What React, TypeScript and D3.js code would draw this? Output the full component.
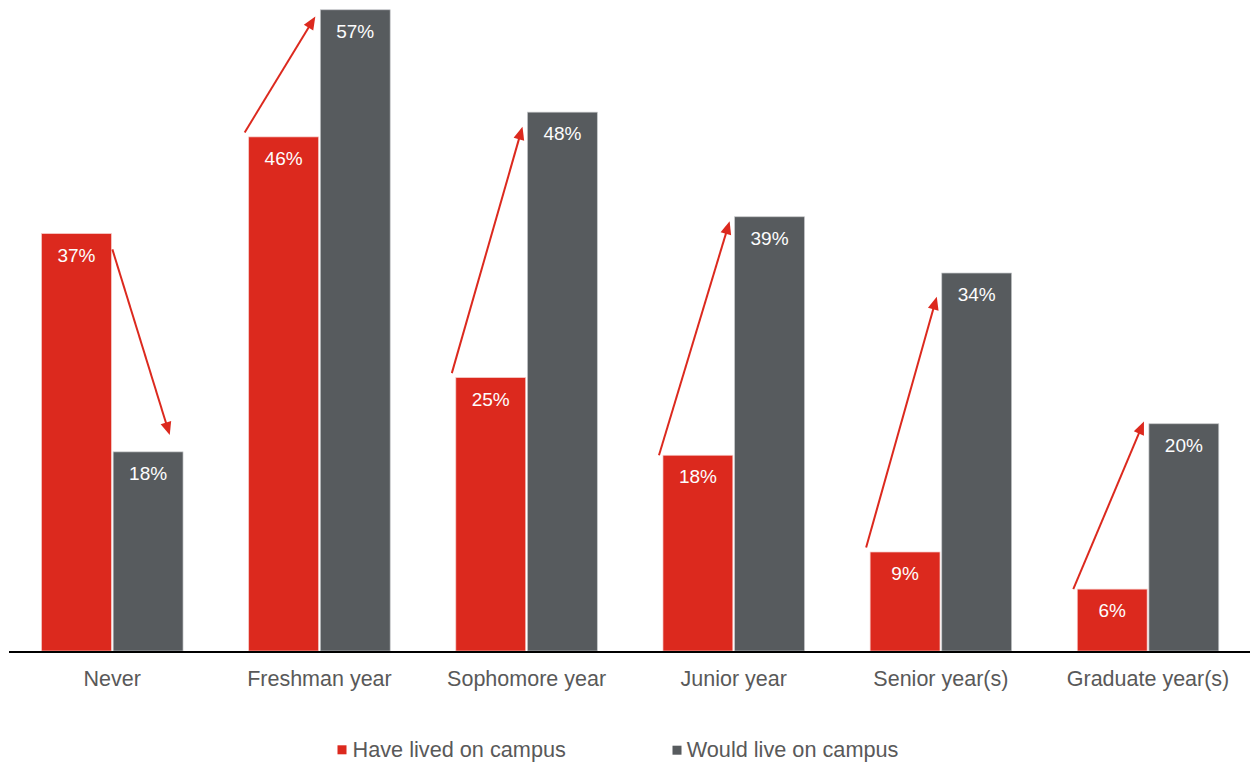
import React from "react";
import * as d3 from "d3";

const categories = ["Never", "Freshman year", "Sophomore year", "Junior year", "Senior year(s)", "Graduate year(s)"];
const seriesNames = ["Have lived on campus", "Would live on campus"];
const haveLived = [37.1, 45.7, 24.3, 17.4, 8.8, 5.5];
const wouldLive = [17.7, 57.0, 47.9, 38.6, 33.6, 20.2];
const haveLivedLabels = ["37%", "46%", "25%", "18%", "9%", "6%"];
const wouldLiveLabels = ["18%", "57%", "48%", "39%", "34%", "20%"];
// arrow annotation levels (percent units)
const arrowFrom = [35.7, 46.1, 24.7, 17.4, 9.2, 5.5];
const arrowTo = [19.2, 56.4, 46.6, 38.2, 31.5, 20.4];

const W = 1250;
const H = 763;
const RED = "#DC291E";
const GRAY = "#575B5E";
const TEXT = "#595959";
const FONT = "'Liberation Sans', Arial, Helvetica, sans-serif";

export default function App() {
  const x0 = d3
    .scaleBand<string>()
    .domain(categories)
    .range([8.7, 1251.6])
    .paddingInner(0.317)
    .paddingOuter(0.1585);
  const x1 = d3
    .scaleBand<string>()
    .domain(["have", "would"])
    .range([0, x0.bandwidth()])
    .paddingInner(0.025);
  const y = d3.scaleLinear().domain([0, 57.87]).range([651, 0]);
  const bw = x1.bandwidth();

  const arrowHead = (xa: number, ya: number, xb: number, yb: number) => {
    const dx = xb - xa;
    const dy = yb - ya;
    const len = Math.sqrt(dx * dx + dy * dy);
    const ux = dx / len;
    const uy = dy / len;
    const hl = 13;
    const hw = 5.5;
    const bx = xb - ux * hl;
    const by = yb - uy * hl;
    const pts = [
      [xb, yb],
      [bx - uy * hw, by + ux * hw],
      [bx + uy * hw, by - ux * hw],
    ];
    return { pts: pts.map((p) => p.join(",")).join(" "), lx: xb - ux * 10, ly: yb - uy * 10 };
  };

  return (
    <svg width={W} height={H} style={{ position: "absolute", left: 0, top: 0, background: "#fff" }}>
      {categories.map((c, i) => {
        const gx = x0(c)!;
        const rx = gx + x1("have")!;
        const gxb = gx + x1("would")!;
        const ry = y(haveLived[i]);
        const gy = y(wouldLive[i]);
        const down = arrowTo[i] < arrowFrom[i];
        const xa = down ? rx + bw + 1 : rx - 4;
        const xb = down ? gxb + bw * 0.81 : gxb - 5;
        const ya = y(arrowFrom[i]);
        const yb = y(arrowTo[i]);
        const ah = arrowHead(xa, ya, xb, yb);
        return (
          <g key={c}>
            <rect x={rx} y={ry} width={bw} height={y(0) - ry} fill={RED} stroke="#f6c9c6" strokeWidth={0.7} />
            <rect x={gxb} y={gy} width={bw} height={y(0) - gy} fill={GRAY} stroke="#c4c6c8" strokeWidth={0.7} />
            <text x={rx + bw / 2} y={ry + 28} textAnchor="middle" fill="#fdfdfd" fontSize={19} fontFamily={FONT}>
              {haveLivedLabels[i]}
            </text>
            <text x={gxb + bw / 2} y={gy + 28} textAnchor="middle" fill="#fdfdfd" fontSize={19} fontFamily={FONT}>
              {wouldLiveLabels[i]}
            </text>
            <line x1={xa} y1={ya} x2={ah.lx} y2={ah.ly} stroke={RED} strokeWidth={2} />
            <polygon points={ah.pts} fill={RED} />
            <text x={gx + x0.bandwidth() / 2} y={685.5} textAnchor="middle" fill={TEXT} fontSize={21.5} fontFamily={FONT}>
              {c}
            </text>
          </g>
        );
      })}
      <line x1={9} x2={1250} y1={652} y2={652} stroke="#000" strokeWidth={2} />
      <g>
        <rect x={337.5} y={745.3} width={9} height={9} fill={RED} />
        <text x={352.5} y={756.7} fill={TEXT} fontSize={21.7} fontFamily={FONT}>
          {seriesNames[0]}
        </text>
        <rect x={672.5} y={745.7} width={9} height={9} fill={GRAY} />
        <text x={686.7} y={756.7} fill={TEXT} fontSize={21.7} fontFamily={FONT}>
          {seriesNames[1]}
        </text>
      </g>
    </svg>
  );
}
